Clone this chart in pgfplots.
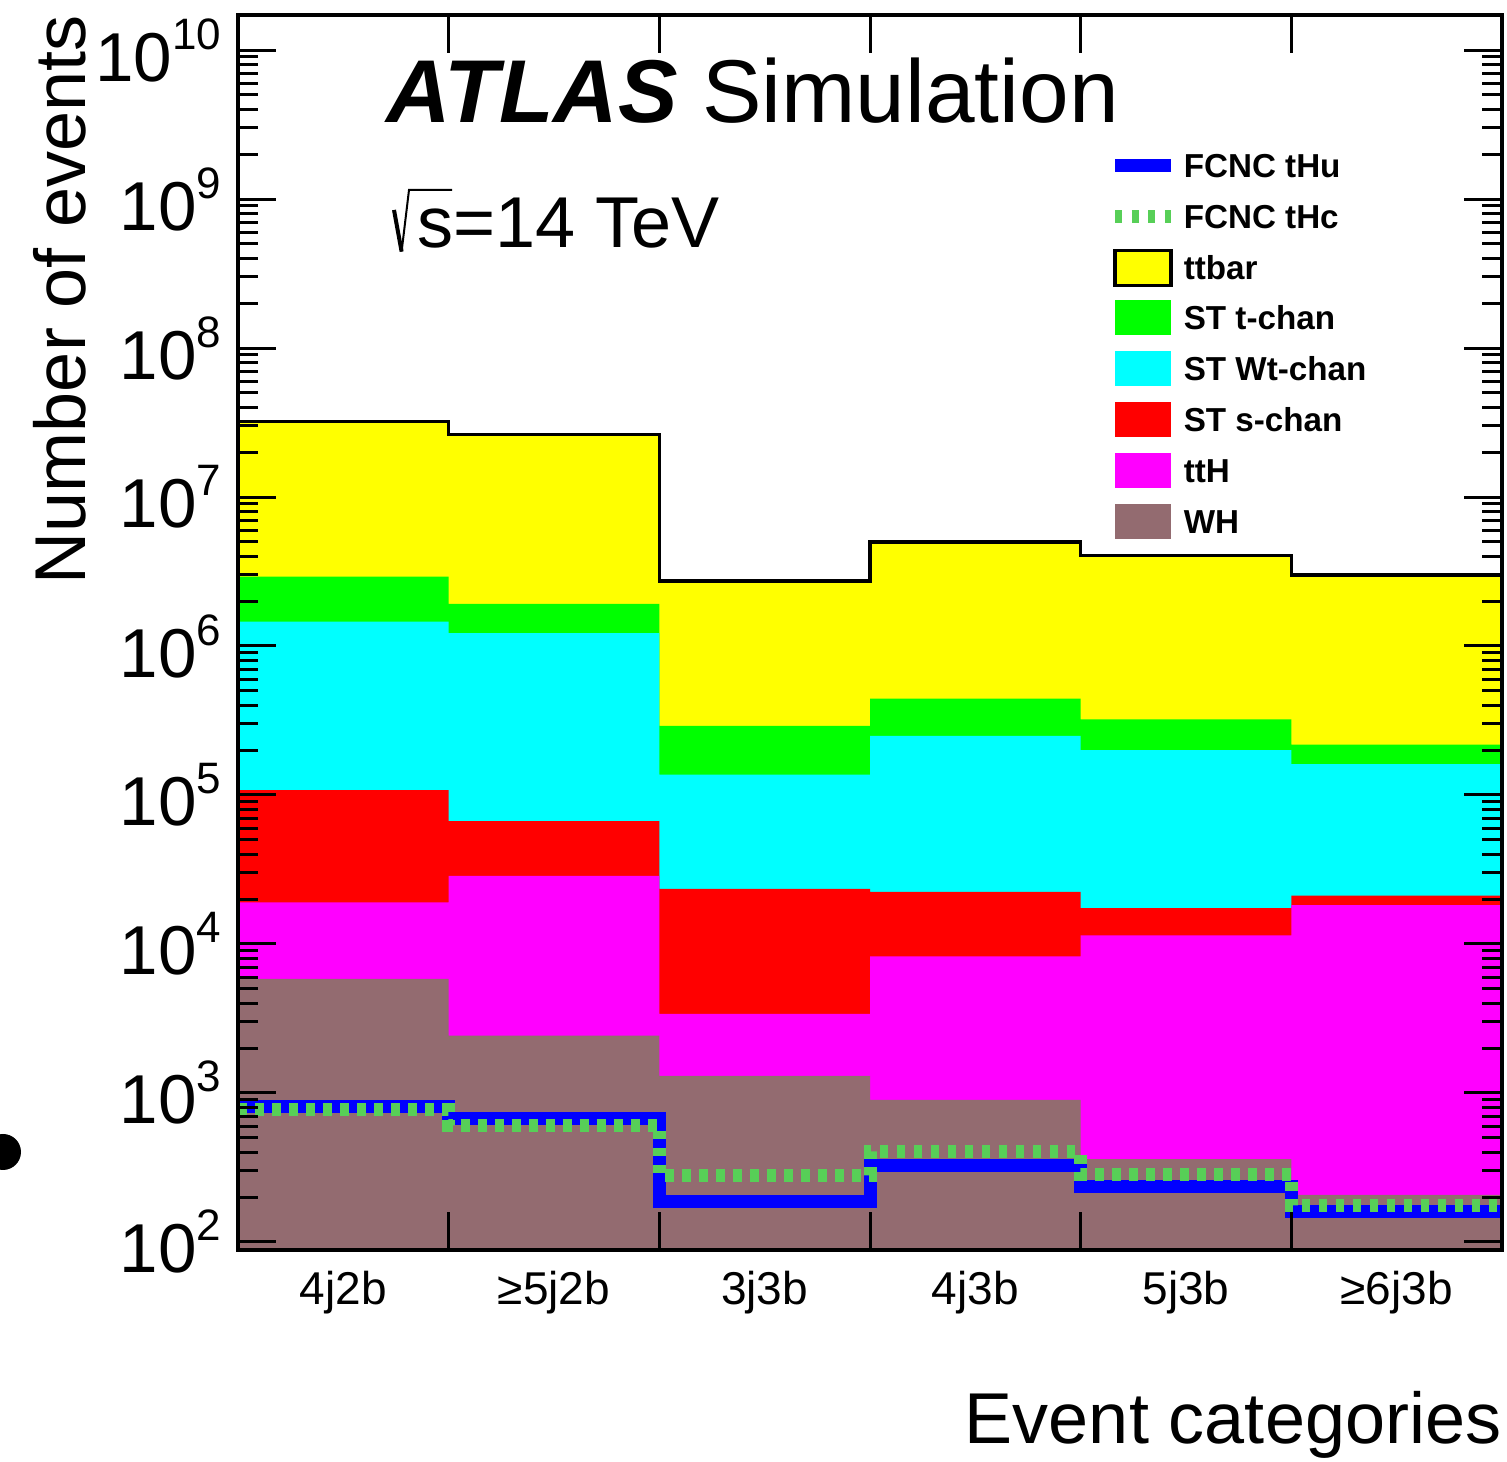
\documentclass[border=0pt]{standalone}
\usepackage{pgfplots}
\pgfplotsset{compat=1.18}
\usepackage{pgfplotstable}
\usepackage{fontspec}
\setmainfont{Liberation Sans}
\definecolor{whbrown}{RGB}{147,107,112}
\definecolor{thcgreen}{RGB}{87,207,87}
\definecolor{ryellow}{RGB}{255,255,0}
\definecolor{rgreen}{RGB}{0,255,0}
\definecolor{rcyan}{RGB}{0,255,255}
\definecolor{rred}{RGB}{255,0,0}
\definecolor{rmagenta}{RGB}{255,0,255}
\definecolor{rblue}{RGB}{0,0,255}
\newcommand{\ee}[1]{10\raisebox{8pt}{\fontsize{11pt}{12pt}\selectfont #1}}

% stacked totals (top edge of each stacked component), one row per category; last row repeats the last bin
\pgfplotstableread{
x ttbar  tchan  wt     schan  tth    wh    thu thc
0 3.21e7 2.92e6 1.46e6 1.08e5 1.90e4 5830  805 769
1 2.63e7 1.92e6 1.22e6 6.68e4 2.86e4 2430  670 607
2 2.73e6 2.91e5 1.37e5 2.34e4 3400   1300  188 279
3 5.00e6 4.43e5 2.49e5 2.24e4 8260   897   324 403
4 4.05e6 3.22e5 2.00e5 1.74e4 1.14e4 359   236 283
5 3.00e6 2.18e5 1.61e5 2.11e4 1.82e4 207   160 175
6 3.00e6 2.18e5 1.61e5 2.11e4 1.82e4 207   160 175
}\stackdata

\begin{document}
\begin{tikzpicture}
\useasboundingbox (0,0) rectangle (376.75pt,365.5pt);
\begin{axis}[
  at={(59.5pt,53pt)}, anchor=south west,
  width=316pt, height=308.75pt, scale only axis,
  xmin=0, xmax=6, ymode=log, ymin=88.3, ymax=1.72e10,
  axis on top,
  axis line style={line width=0.9pt},
  every tick/.style={black, line width=0.75pt},
  major tick length=9.5pt, minor tick length=5pt,
  xtick={1,2,3,4,5}, xticklabels={},
  extra x ticks={0.5,1.5,2.5,3.5,4.5,5.5},
  extra x tick labels={4j2b,≥5j2b,3j3b,4j3b,5j3b,≥6j3b},
  extra x tick style={major tick length=0pt},
  xticklabel style={font=\fontsize{11.5pt}{13pt}\selectfont, inner sep=0pt},
  xticklabel shift=5pt,
  ytick={1e2,1e3,1e4,1e5,1e6,1e7,1e8,1e9,1e10},
  yticklabels={\ee{2},\ee{3},\ee{4},\ee{5},\ee{6},\ee{7},\ee{8},\ee{9},\ee{10}},
  yticklabel style={font=\fontsize{17.3pt}{20pt}\selectfont, inner sep=0pt},
  yticklabel shift=4pt,
]
\addplot[const plot, draw=none, fill=ryellow] table[x=x,y=ttbar]{\stackdata} \closedcycle;
\addplot[const plot, draw=none, fill=rgreen] table[x=x,y=tchan]{\stackdata} \closedcycle;
\addplot[const plot, draw=none, fill=rcyan] table[x=x,y=wt]{\stackdata} \closedcycle;
\addplot[const plot, draw=none, fill=rred] table[x=x,y=schan]{\stackdata} \closedcycle;
\addplot[const plot, draw=none, fill=rmagenta] table[x=x,y=tth]{\stackdata} \closedcycle;
\addplot[const plot, draw=none, fill=whbrown] table[x=x,y=wh]{\stackdata} \closedcycle;
\addplot[const plot, black, line width=0.9pt] table[x=x,y=ttbar]{\stackdata};
\addplot[const plot, rblue, line width=3.25pt, line join=miter] table[x=x,y=thu]{\stackdata};
\addplot[const plot, thcgreen, line width=3.25pt, line join=miter, dash pattern=on 2.2pt off 2.05pt] table[x=x,y=thc]{\stackdata};
\end{axis}
% labels
\node[rotate=90, anchor=base east, inner sep=0pt, font=\fontsize{18pt}{20pt}\selectfont] at (21.5pt,361.75pt) {Number of events};
\node[anchor=base east, inner sep=0pt, font=\fontsize{18pt}{20pt}\selectfont] at (375.5pt,4.5pt) {Event categories};
\node[anchor=base west, inner sep=0pt, font=\fontsize{22.3pt}{24pt}\selectfont] at (96.5pt,334.75pt) {{\bfseries\itshape ATLAS} Simulation};
% sqrt(s) = 14 TeV
\draw[line width=1pt, line cap=butt] (98.5pt,313pt) -- (100.4pt,302.6pt);
\draw[line width=0.5pt, line join=miter] (100.4pt,302.6pt) -- (102.25pt,318pt) -- (113pt,318pt);
\node[anchor=base west, inner sep=0pt, font=\fontsize{18pt}{20pt}\selectfont] at (104.1pt,303.5pt) {s=14 TeV};
% legend
\draw[rblue, line width=3.25pt] (278.75pt,324pt) -- (292.75pt,324pt);
\draw[thcgreen, line width=3.25pt, dash pattern=on 1.75pt off 2.4pt] (278.75pt,311.25pt) -- (292.75pt,311.25pt);
\filldraw[fill=ryellow, draw=black, line width=0.9pt] (278.75pt,294.125pt) rectangle (292.75pt,302.875pt);
\fill[rgreen] (278.75pt,281.625pt) rectangle (292.75pt,290.375pt);
\fill[rcyan] (278.75pt,268.875pt) rectangle (292.75pt,277.625pt);
\fill[rred] (278.75pt,256.125pt) rectangle (292.75pt,264.875pt);
\fill[rmagenta] (278.75pt,243.375pt) rectangle (292.75pt,252.125pt);
\fill[whbrown] (278.75pt,230.625pt) rectangle (292.75pt,239.375pt);
\begin{scope}[every node/.style={anchor=west, inner sep=0pt, font=\fontsize{8.3pt}{10pt}\selectfont\bfseries}]
\node at (295.75pt,324pt) {FCNC tHu};
\node at (295.75pt,311.25pt) {FCNC tHc};
\node at (295.75pt,298.5pt) {ttbar};
\node at (295.75pt,286pt) {ST t-chan};
\node at (295.75pt,273.25pt) {ST Wt-chan};
\node at (295.75pt,260.5pt) {ST s-chan};
\node at (295.75pt,247.75pt) {ttH};
\node at (295.75pt,235pt) {WH};
\end{scope}
\fill (0.75pt,77.5pt) circle (4.5pt);
\end{tikzpicture}
\end{document}
